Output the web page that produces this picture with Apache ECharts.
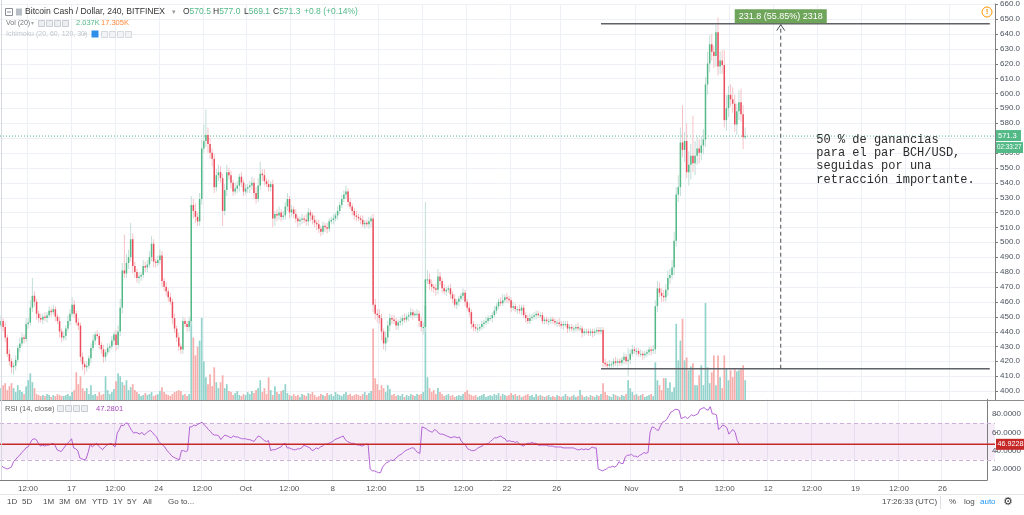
<!DOCTYPE html>
<html><head><meta charset="utf-8">
<script src="https://cdn.jsdelivr.net/npm/echarts@6/dist/echarts.min.js"></script>
<style>html,body{margin:0;padding:0;background:#fff}#c{width:1024px;height:515px}</style>
</head><body><div id="c"></div>
<script>
// ---------- data ----------
const startTime = '2018-09-11T08:00:00Z';   // first 4h bar
const barHours = 4;
const slotCount = 476;                       // bars visible on the time axis (incl. empty right margin)
const tickTimes = ['2018-09-13 12:00','2018-09-17 00:00','2018-09-20 12:00','2018-09-24 00:00','2018-09-27 12:00','2018-10-01 00:00','2018-10-04 12:00','2018-10-08 00:00','2018-10-11 12:00','2018-10-15 00:00','2018-10-18 12:00','2018-10-22 00:00','2018-10-26 00:00','2018-11-01 00:00','2018-11-05 00:00','2018-11-08 12:00','2018-11-12 00:00','2018-11-15 12:00','2018-11-19 00:00','2018-11-22 12:00','2018-11-26 00:00'];
const tickLabels = ['12:00','17','12:00','24','12:00','Oct','12:00','8','12:00','15','12:00','22','26','Nov','5','12:00','12','12:00','19','12:00','26'];
const priceLabels = [400,410,420,430,440,450,460,470,480,490,500,510,520,530,540,550,560,570,580,590,600,610,620,630,640,650,660];
const rsiLabels = [20,40,60,80];

const firstOpen = 444;
const closes = [
447,443,436,425,420,416,417,421,429,432,
436,435,445,446,456,464,460,452,449,448,
450,449,451,454,453,455,450,447,440,436,
437,442,447,452,458,452,446,444,423,418,
416,417,422,429,434,438,437,431,428,423,
426,429,430,434,438,431,440,456,481,479,
486,490,502,484,480,476,477,478,484,483,
485,490,499,487,486,488,491,474,470,467,
463,460,449,442,436,430,428,447,445,443,
447,525,521,517,514,529,563,568,572,566,
560,556,537,545,547,543,521,535,547,545,
540,534,536,538,544,540,534,536,537,538,
540,533,529,538,546,545,541,539,537,539,
516,519,518,520,517,518,524,529,520,522,
519,516,514,515,516,515,514,520,518,515,
513,512,509,507,511,510,509,514,515,516,
518,521,525,529,532,534,527,524,521,518,
517,516,515,512,513,512,514,516,458,452,
451,449,440,432,436,444,449,448,447,444,
446,447,449,448,450,451,453,451,452,452,
447,443,443,475,475,472,470,469,468,477,
474,469,467,468,469,465,462,458,460,462,
464,466,460,456,453,445,443,442,442,443,
445,446,447,449,449,451,454,457,460,459,
461,463,462,461,456,457,455,455,454,456,
451,449,447,449,450,451,452,451,451,447,
448,447,447,448,447,446,446,445,444,445,
445,442,443,442,442,443,442,442,439,440,
440,439,440,439,440,441,440,441,419,418,
417,418,418,420,419,420,419,421,423,420,
421,425,428,427,427,425,425,424,425,426,
428,427,428,457,469,466,464,463,468,476,
478,483,501,532,537,567,562,568,547,552,
558,553,558,563,560,565,569,606,620,633,
628,625,641,618,622,619,582,590,599,596,
593,579,588,594,586,570.5,571.3];
const wickHi = [
4,2,3,2,3,2,2,3,2,4,
3,2,4,3,5,12,3,2,2,3,
2,3,2,3,2,3,2,2,3,2,
3,2,4,3,5,3,2,3,2,3,
2,3,2,3,4,2,3,2,2,3,
2,3,2,3,2,3,4,6,5,24,
6,5,11,4,3,2,3,2,4,3,
3,4,5,3,2,3,4,3,2,3,
2,3,2,3,2,3,2,3,2,2,
3,6,4,5,3,4,6,11,17,5,
4,3,3,4,5,4,3,4,5,3,
3,2,4,3,2,3,2,3,2,3,
4,3,4,5,8,3,4,2,3,2,
3,2,3,4,2,3,3,4,2,3,
2,3,2,2,3,2,4,3,2,2,
3,2,3,2,3,2,3,2,2,3,
2,3,2,3,3,4,2,3,2,2,
3,2,2,3,2,2,3,2,3,4,
3,4,3,2,4,3,3,2,3,2,
2,3,2,3,2,2,3,2,2,3,
2,3,3,52,6,4,3,2,3,5,
3,2,3,2,2,3,2,3,2,2,
2,3,2,2,3,2,2,2,3,2,
2,2,3,2,2,2,3,2,2,3,
4,2,3,2,2,3,2,2,3,2,
2,2,2,3,2,2,2,2,2,2,
2,2,2,2,2,2,2,3,2,2,
2,2,2,2,2,2,3,2,2,2,
2,2,2,2,2,2,2,2,2,3,
2,3,2,2,3,2,2,2,3,2,
8,3,3,2,2,2,3,2,2,2,
2,2,3,4,5,4,3,4,4,5,
4,5,6,5,8,10,25,6,12,9,
8,27,10,8,6,6,7,5,8,6,
7,4,5,10,6,7,10,9,6,7,
8,6,5,8,9,6,5.7];
const wickLo = [
2,3,3,2,3,4,5,3,2,3,
2,3,2,3,2,3,3,4,3,2,
3,2,3,2,3,2,3,2,4,3,
2,3,2,3,2,3,2,3,3,4,
5,3,2,3,2,3,2,3,3,4,
3,2,3,2,3,4,3,3,4,3,
3,4,3,5,4,3,4,3,2,3,
3,2,3,4,3,2,3,4,3,3,
3,2,4,3,3,3,3,3,2,3,
3,3,5,4,3,3,4,3,4,6,
4,5,4,3,4,3,10,3,4,3,
4,3,2,3,4,3,3,2,3,4,
3,4,3,2,3,4,3,2,3,3,
6,5,4,3,3,2,3,3,4,3,
3,3,4,3,3,2,3,3,4,3,
3,4,3,3,2,3,3,2,2,3,
2,3,2,2,2,3,3,2,3,3,
3,2,3,2,3,2,3,4,5,4,
5,4,6,4,5,3,4,3,2,3,
3,2,3,2,2,3,2,3,2,3,
4,3,5,3,3,4,3,3,4,3,
3,3,2,3,2,3,3,2,3,3,
2,3,3,2,3,3,3,2,3,2,
2,3,2,2,2,3,2,2,2,2,
2,2,3,2,3,2,2,3,2,3,
2,3,2,2,2,2,3,2,2,2,
2,2,3,2,2,2,3,2,2,3,
2,3,2,2,3,2,2,2,3,2,
2,2,2,3,2,2,2,2,3,2,
2,2,3,2,2,3,2,2,3,2,
10,3,2,2,3,2,2,3,2,2,
2,3,2,3,4,3,4,3,3,4,
4,3,5,4,5,6,5,8,4,9,
10,6,8,6,7,5,6,5,7,6,
6,8,7,6,5,6,5,7,6,5,
6,5,7,6,5,8,1.4];
const volume = [
1.2,1.5,1.7,1.0,1.4,1.7,1.2,0.8,1.5,1.0,
0.8,0.6,1.4,2.0,2.7,1.8,1.2,0.6,0.5,0.4,
0.5,0.4,0.6,0.5,0.3,0.5,0.4,0.6,0.5,0.4,
0.4,0.5,0.6,0.4,0.8,1.0,2.8,1.6,2.4,1.2,
0.9,1.2,0.6,1.5,0.5,0.6,0.4,0.8,0.5,0.6,
2.4,1.0,0.6,0.8,1.1,1.9,2.7,2.4,1.8,1.5,
2.0,1.0,1.3,1.6,1.0,0.8,0.6,0.4,0.5,0.7,
0.5,0.6,0.8,0.4,0.5,0.6,0.9,1.3,0.8,0.6,
0.5,0.4,0.6,0.8,0.9,1.0,0.9,0.5,0.6,0.4,
0.6,8.2,6.3,4.5,5.4,6.0,8.3,3.9,2.3,1.6,
2.6,1.4,3.3,1.8,1.2,1.8,2.5,1.2,1.6,0.9,
0.8,0.5,0.7,0.9,0.5,0.4,0.6,0.5,0.8,0.6,
0.9,0.7,1.0,1.2,2.0,0.8,1.2,0.6,2.3,1.0,
0.5,1.4,0.8,0.6,0.9,1.0,1.6,0.7,0.5,0.4,
0.6,0.4,0.5,0.3,0.6,0.5,0.4,0.7,0.6,0.8,
0.5,0.3,0.4,0.6,0.5,0.4,0.7,0.5,0.6,0.4,
0.8,0.6,0.5,0.4,0.6,0.8,0.5,0.6,0.4,0.5,
0.6,0.5,0.4,0.6,0.8,0.5,0.7,0.9,7.2,2.2,
1.6,1.0,1.5,1.2,0.8,1.5,1.1,0.5,0.6,0.4,
0.5,0.4,0.6,0.3,0.5,0.4,0.6,0.5,0.4,0.6,
0.5,0.6,0.8,9.5,2.3,1.2,0.8,1.0,0.6,1.2,
0.8,0.6,0.4,0.5,0.6,0.4,0.5,0.3,0.4,0.5,
0.4,0.6,0.8,1.0,0.6,0.5,0.4,0.5,0.3,0.4,
0.5,0.6,0.3,0.4,0.5,0.4,0.6,0.5,0.7,0.4,
0.6,0.5,0.4,0.5,0.7,0.5,0.6,0.4,0.5,0.3,
0.4,0.5,0.6,0.4,0.5,0.3,0.6,0.4,0.5,0.4,
0.3,0.4,0.5,0.3,0.4,0.3,0.5,0.4,0.3,0.4,
0.6,0.4,0.3,0.4,0.5,0.3,0.4,1.0,0.5,0.3,
0.4,0.3,0.5,0.4,0.3,0.5,0.4,0.6,1.7,0.8,
0.5,0.4,0.3,0.6,0.5,0.4,0.3,0.5,0.4,0.6,
2.0,1.2,0.8,0.5,0.6,0.4,0.5,0.6,0.3,0.4,
0.5,0.6,0.4,3.8,2.0,1.5,1.0,2.2,2.2,1.2,
1.8,0.8,1.3,7.7,4.0,6.0,8.2,4.0,4.3,3.0,
3.4,3.7,1.5,1.5,2.5,3.5,1.5,9.8,3.3,1.7,
2.8,4.5,1.5,4.5,2.3,1.2,4.5,3.2,2.0,3.0,
2.3,3.1,2.9,3.0,3.2,3.5,2.0];
const rsi = [
24,22,21,20,21,22,28,30,33,35,
38,40,43,44,48,52,53,52,48,45,
46,45,46,46,47,48,46,41,40,39,
42,45,48,50,53,43,42,40,32,31,
30,31,38,47,44,46,48,45,43,41,
44,46,47,48,46,44,59,63,68,67,
70,70,66,62,59,60,59,58,60,57,
59,61,62,60,57,55,50,48,46,44,
40,38,35,33,32,31,30,40,40,39,
40,66,66,68,67,69,70,71,68,66,
63,61,58,57,57,56,52,55,57,56,
55,54,56,55,55,54,53,53,53,52,
52,51,50,53,56,55,53,51,50,51,
40,41,41,42,43,44,47,48,43,43,
42,41,41,42,42,43,46,45,44,43,
40,41,43,42,44,45,47,47,48,49,
50,52,53,54,55,56,52,50,49,48,
48,47,46,46,45,46,47,47,20,18,
18,17,16,16,22,25,27,28,30,29,
31,33,35,36,38,40,41,42,43,43,
40,38,37,66,65,64,62,61,60,63,
62,59,58,58,57,56,55,54,55,55,
54,55,50,48,46,42,41,40,40,41,
43,44,45,47,47,48,50,52,54,54,
55,56,54,53,50,51,50,50,49,50,
47,46,45,47,48,48,49,48,48,46,
46,46,46,46,45,45,45,44,44,44,
44,43,43,43,43,43,43,42,41,41,
42,41,42,41,42,44,43,43,20,19,
18,19,20,22,22,23,22,24,28,26,
26,33,35,35,36,34,34,33,35,36,
38,37,38,60,66,65,63,62,67,71,
72,74,78,82,83,85,85,84,75,76,
77,75,77,79,78,79,80,85,86,87,
85,84,88,80,80,79,63,65,68,67,
65,58,61,63,60,51,47.28];

const lastPrice = 571.3, countdown = '02:33:27';
const rsiLevel = 46.9228, rsiLevelText = '46.9228', rsiBandTop = 70, rsiBandBottom = 30;
const measureLow = 415.0, measureHigh = 646.8, measureFromIdx = 287, measureToIdx = 473, arrowIdx = 373;
const measureText = '231.8 (55.85%) 2318';
const noteIdx = 390, notePrice = 569;
const noteLines = ['50 % de ganancias', 'para el par BCH/USD,', 'seguidas por una', 'retracción importante.'];

// ---------- build ----------
const UP = '#53b987', DN = '#eb4d5c', WICK_UP = '#c3ded8', WICK_DN = '#f5c3c7';
const VOL_UP = '#93d3cb', VOL_DN = '#f6aeac';
const GRID = '#edf0f5';
const FONT = '"Liberation Sans", Arial, sans-serif';

const t0 = Date.parse(startTime);
const categories = Array.from({length: slotCount}, (_, i) =>
  new Date(t0 + i * barHours * 3600e3).toISOString().slice(0, 16).replace('T', ' '));
const tickMap = {};
tickTimes.forEach((t, k) => tickMap[t] = tickLabels[k]);
const isTick = (idx, val) => tickMap[val] !== undefined;

const opens = closes.map((c, i) => i === 0 ? firstOpen : closes[i - 1]);
const candleData = closes.map((c, i) => {
  const o = opens[i];
  return [i, o, c, +(Math.min(o, c) - wickLo[i]).toFixed(2), +(Math.max(o, c) + wickHi[i]).toFixed(2)];
});
const volData = volume.map((v, i) => ({value: v, itemStyle: {color: closes[i] >= opens[i] ? VOL_UP : VOL_DN}}));

function renderCandle(params, api) {
  const i = api.value(0), o = api.value(1), c = api.value(2), l = api.value(3), h = api.value(4);
  const pO = api.coord([i, o]), pC = api.coord([i, c]), pL = api.coord([i, l]), pH = api.coord([i, h]);
  const bw = Math.max(1, api.size([1, 0])[0] * 0.72);
  const up = c >= o;
  const x = pO[0];
  const top = Math.min(pO[1], pC[1]);
  const bh = Math.max(1, Math.abs(pO[1] - pC[1]));
  return {type: 'group', children: [
    {type: 'line', shape: {x1: x, y1: pH[1], x2: x, y2: pL[1]}, style: {stroke: up ? WICK_UP : WICK_DN, lineWidth: 1}},
    {type: 'rect', shape: {x: x - bw / 2, y: top, width: bw, height: bh}, style: {fill: up ? UP : DN}}
  ]};
}

const chart = echarts.init(document.getElementById('c'), null, {renderer: 'canvas'});
chart.setOption({
  animation: false,
  backgroundColor: '#ffffff',
  grid: [
    {left: 0, width: 995, top: 1, height: 399},
    {left: 0, width: 995, top: 399.3, height: 80.7}
  ],
  xAxis: [
    {type: 'category', gridIndex: 0, data: categories, boundaryGap: true,
     axisLine: {show: false}, axisTick: {show: false}, axisLabel: {show: false},
     splitLine: {show: true, interval: isTick, lineStyle: {color: GRID}}},
    {type: 'category', gridIndex: 1, data: categories, boundaryGap: true,
     axisLine: {show: true, lineStyle: {color: '#7d7d7d'}}, axisTick: {show: false},
     axisLabel: {interval: isTick, formatter: v => tickMap[v] || '', fontSize: 8, color: '#555', fontFamily: FONT, margin: 5},
     splitLine: {show: true, interval: isTick, lineStyle: {color: GRID}}}
  ],
  yAxis: [
    {type: 'value', gridIndex: 0, position: 'right', min: 394, max: 660, interval: 2,
     axisLine: {show: true, lineStyle: {color: '#7d7d7d'}}, axisTick: {show: false}, splitLine: {show: false},
     axisLabel: {fontSize: 8, color: '#4c525e', fontFamily: FONT, margin: 5,
       formatter: v => priceLabels.includes(Math.round(v)) ? Number(v).toFixed(1) : ''}},
    {type: 'value', gridIndex: 0, min: 0, max: 40, show: false},
    {type: 'value', gridIndex: 1, position: 'right', min: 8, max: 96, interval: 4,
     axisLine: {show: true, lineStyle: {color: '#7d7d7d'}}, axisTick: {show: false}, splitLine: {show: false},
     axisLabel: {fontSize: 8, color: '#4c525e', fontFamily: FONT, margin: 5,
       formatter: v => rsiLabels.includes(Math.round(v)) ? Number(v).toFixed(4) : ''}}
  ],
  series: [
    {type: 'bar', name: 'Vol', xAxisIndex: 0, yAxisIndex: 1, data: volData, barCategoryGap: '18%', z: 1, silent: true},
    {type: 'custom', name: 'BCHUSD', xAxisIndex: 0, yAxisIndex: 0, data: candleData, renderItem: renderCandle,
     encode: {x: 0, y: [1, 2, 3, 4]}, z: 3, clip: true, silent: true},
    {type: 'line', name: 'RSI', xAxisIndex: 1, yAxisIndex: 2, data: rsi, symbol: 'none', z: 3, silent: true,
     lineStyle: {color: '#b464d6', width: 1}}
  ]
});

// ---------- overlays placed via the chart's own scales ----------
const yP = v => chart.convertToPixel({yAxisIndex: 0}, v);
const yR = v => chart.convertToPixel({yAxisIndex: 2}, v);
const xC = i => chart.convertToPixel({xAxisIndex: 0}, i);
const g = [];
const line = (x1, y1, x2, y2, stroke, lw, dash, z) => g.push({type: 'line', silent: true, z: z == null ? 0 : z,
  shape: {x1, y1, x2, y2}, style: {stroke, lineWidth: lw || 1, lineDash: dash || null}});
const text = (x, y, s, fill, size, extra) => g.push({type: 'text', silent: true, z: 60, x, y,
  style: Object.assign({text: s, fill, font: (size || 8) + 'px ' + FONT, verticalAlign: 'middle'}, extra || {})});
const rect = (x, y, w, h, fill, stroke, z) => g.push({type: 'rect', silent: true, z: z == null ? 60 : z,
  shape: {x, y, width: w, height: h}, style: {fill: fill || 'none', stroke: stroke || null, lineWidth: 1}});

// price grid lines + ticks
priceLabels.forEach(v => {
  const y = Math.round(yP(v)) + 0.5;
  line(0, y, 995, y, GRID, 1);
  line(995, y, 998, y, '#7d7d7d', 1, null, 5);
});
rsiLabels.forEach(v => { const y = Math.round(yR(v)) + 0.5; line(995, y, 998, y, '#7d7d7d', 1, null, 5); });

// RSI band
g.push({type: 'rect', silent: true, z: 0, shape: {x: 0, y: yR(rsiBandTop), width: 995, height: yR(rsiBandBottom) - yR(rsiBandTop)},
  style: {fill: 'rgba(156,39,176,0.085)'}});
line(0, Math.round(yR(rsiBandTop)) + 0.5, 995, Math.round(yR(rsiBandTop)) + 0.5, '#cdb0d8', 1, [4, 3], 1);
line(0, Math.round(yR(rsiBandBottom)) + 0.5, 995, Math.round(yR(rsiBandBottom)) + 0.5, '#cdb0d8', 1, [4, 3], 1);
line(0, yR(rsiLevel), 995, yR(rsiLevel), '#c62828', 1.6, null, 50);

// pane borders
line(0, 400.5, 1024, 400.5, '#8c8c8c', 1, null, 55);
line(1.5, 0, 1.5, 480, '#d5d8de', 1, null, 55);
line(0, 494.5, 1024, 494.5, '#e6e8ec', 1, null, 55);

// last price dotted line
line(0, yP(lastPrice), 995, yP(lastPrice), '#53b987', 1, [1, 2], 2);

// price range measurement
const xa = xC(measureFromIdx), xb = xC(measureToIdx), xm = xC(arrowIdx);
const yTop = yP(measureHigh), yBot = yP(measureLow);
line(xa, yTop, xb, yTop, '#5f6168', 1.5, null, 50);
line(xa, yBot, xb, yBot, '#5f6168', 1.5, null, 50);
line(xm, yBot, xm, yTop + 1, '#4a4c52', 1, [4, 3], 50);
g.push({type: 'polyline', silent: true, z: 50, shape: {points: [[xm - 4, yTop + 7], [xm, yTop + 1], [xm + 4, yTop + 7]]},
  style: {stroke: '#4a4c52', lineWidth: 1, fill: null}});
g.push({type: 'text', silent: true, z: 61, x: xm, y: yTop - 0.5,
  style: {text: measureText, fill: '#ffffff', font: '9px ' + FONT, align: 'center', verticalAlign: 'bottom',
    backgroundColor: '#6ea55a', padding: [3, 4, 2, 4]}});

// note text
noteLines.forEach((s, k) => text(xC(noteIdx), yP(notePrice) + k * 13.4, s, '#2b2b2b', 12,
  {font: '12px "Liberation Mono", "Courier New", monospace'}));

// right axis value tags
const yl = yP(lastPrice);
rect(996, yl - 6, 25, 11, '#53b987');
text(998, yl, String(lastPrice), '#fff', 7.5);
rect(996, yl + 6, 27, 11, '#53b987');
text(997, yl + 11.5, countdown, '#fff', 6.3);
const yr = yR(rsiLevel);
rect(996, yr - 5.5, 28, 11, '#c62828');
text(997.5, yr, rsiLevelText, '#fff', 7.2);

// alert icon
g.push({type: 'circle', silent: true, z: 60, shape: {cx: 987, cy: 12, r: 5}, style: {stroke: '#ff9800', fill: '#fff', lineWidth: 1}});
text(987, 12, '!', '#ff9800', 8, {align: 'center', font: 'bold 8px ' + FONT});

// legend header
rect(5.5, 8.5, 7, 7, '#fff', '#8a8e97');
line(7, 12, 11, 12, '#8a8e97', 1, null, 61);
rect(16, 8.5, 6, 7, '#b8bcc4', null);
text(25, 12, 'Bitcoin Cash / Dollar, 240, BITFINEX', '#333', 8.6);
text(172, 12, '▾', '#999', 7);
[['O', '570.5', 183], ['H', '577.0', 213], ['L', '569.1', 244], ['C', '571.3', 273]].forEach(([a, b, x]) =>
  g.push({type: 'text', silent: true, z: 60, x, y: 12, style: {text: '{a|' + a + '}{b|' + b + '}', font: '8.5px ' + FONT,
    verticalAlign: 'middle', rich: {a: {fill: '#333', font: '8.5px ' + FONT}, b: {fill: '#53b987', font: '8.5px ' + FONT}}}}));
text(304, 12, '+0.8 (+0.14%)', '#53b987', 8.5);

text(6, 23, 'Vol (20)', '#777', 7);
text(31, 23, '▾', '#aaa', 6);
[38, 46, 54, 62].forEach(x => rect(x + 0.5, 20.5, 6, 6, '#eceef2', '#c9cdd4'));
text(76, 23, '2.037K', '#53b987', 7.5);
text(101, 23, '17.305K', '#ff8a3d', 7.5);

text(6, 34, 'Ichimoku (20, 60, 120, 30)', '#c2c6ce', 7);
text(83, 34, '▾', '#ccc', 6);
rect(91.5, 30.5, 7, 7, '#2f8fe8', null);
[101, 109, 117, 125].forEach(x => rect(x + 0.5, 31.5, 6, 6, '#f2f3f5', '#d6d9de'));

text(5, 409, 'RSI (14, close)', '#666', 7.5);
text(49, 409, '▾', '#aaa', 6);
[57, 65, 73, 81].forEach(x => rect(x + 0.5, 405.5, 6, 6, '#eceef2', '#c9cdd4'));
text(96, 409, '47.2801', '#ab47bc', 7.5);

// bottom toolbar
[['1D', 7], ['5D', 22], ['1M', 43], ['3M', 59], ['6M', 75], ['YTD', 92], ['1Y', 113], ['5Y', 127], ['All', 143], ['Go to...', 168]]
  .forEach(([s, x]) => text(x, 502, s, '#4a4a4a', 8));
text(882, 502, '17:26:33 (UTC)', '#4a4a4a', 8);
line(940.5, 496, 940.5, 509, '#dcdfe4', 1, null, 55);
text(949, 502, '%', '#4a4a4a', 8);
text(964, 502, 'log', '#4a4a4a', 8);
text(980, 502, 'auto', '#2196f3', 8);
text(1008, 502, '⚙', '#333', 11, {align: 'center', font: '11px "DejaVu Sans", sans-serif'});

chart.setOption({graphic: {elements: g}});
</script>
</body></html>
